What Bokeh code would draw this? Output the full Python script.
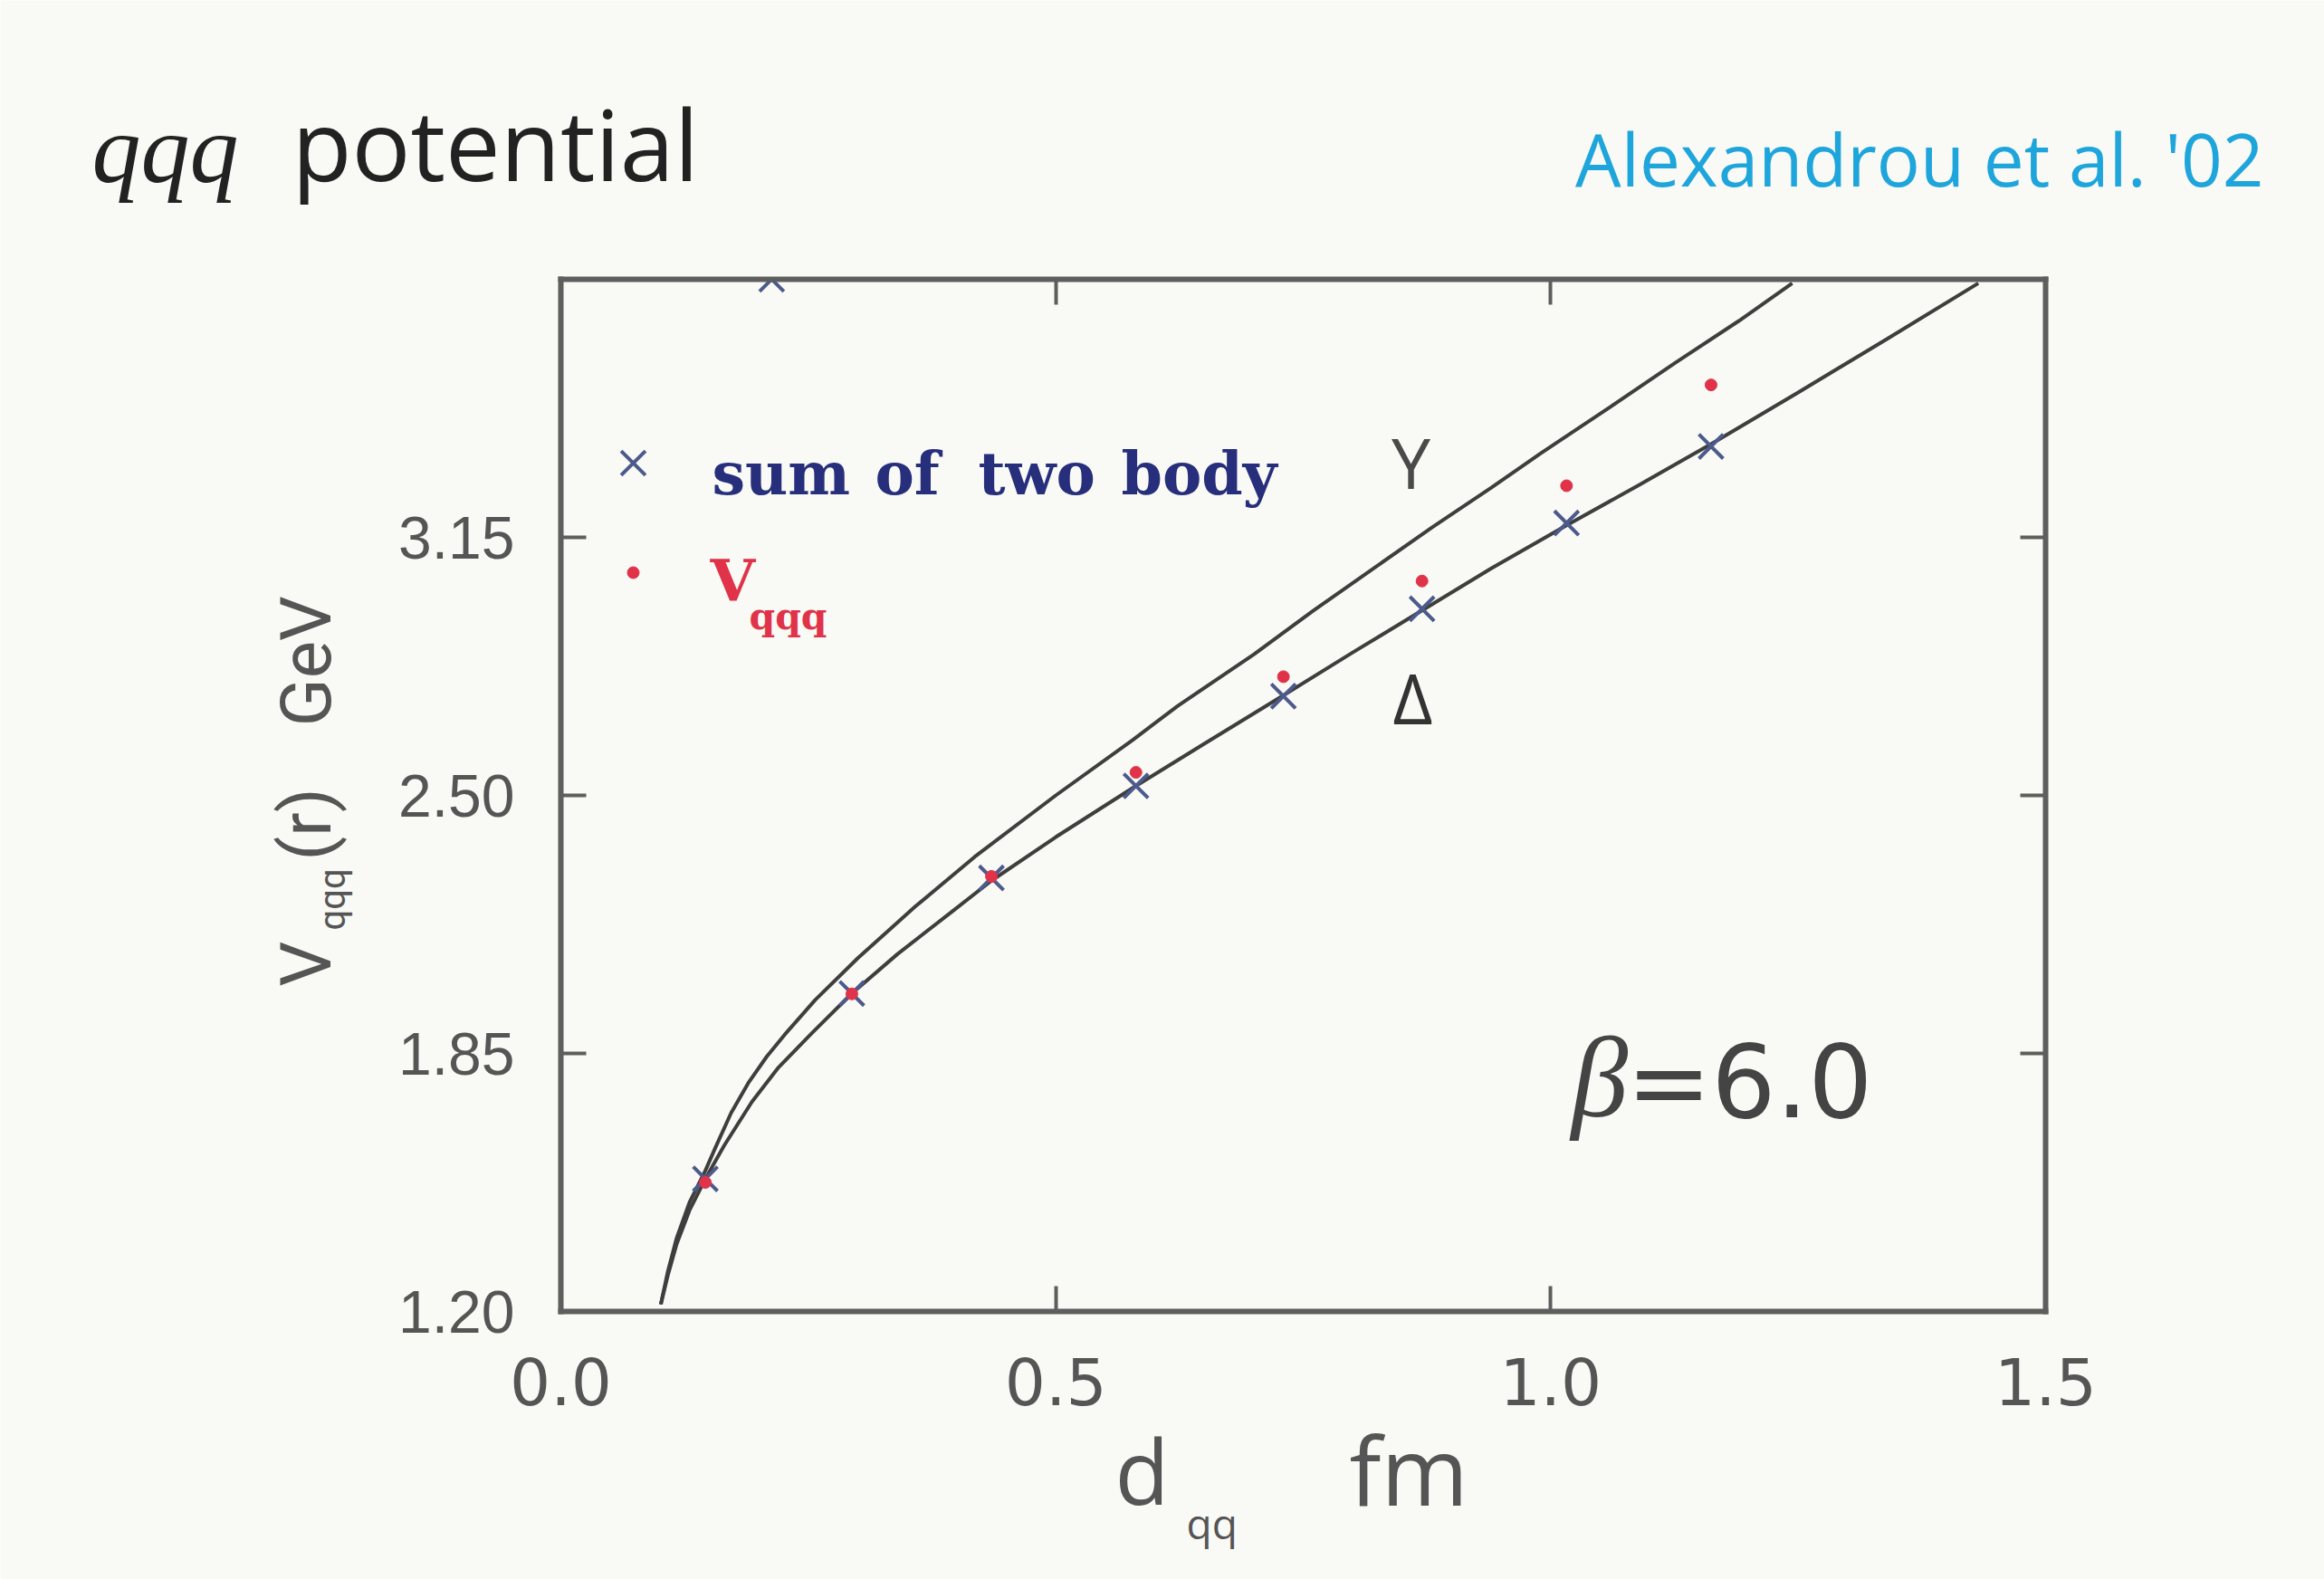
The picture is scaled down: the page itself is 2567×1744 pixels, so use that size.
from bokeh.plotting import figure
from bokeh.models import Range1d, FixedTicker, NumeralTickFormatter, LinearAxis, Label
from bokeh.embed import file_html
from bokeh.resources import INLINE

# --- data -------------------------------------------------------------
# quark separation d_qq (fm) for the lattice points
r_points = [0.146, 0.294, 0.435, 0.581, 0.730, 0.870, 1.016, 1.162]
# sum of two-body potentials (GeV)
v_two_body = [1.534, 2.001, 2.292, 2.524, 2.750, 2.970, 3.186, 3.379]
# three-quark potential V_qqq (GeV)
v_qqq = [1.525, 2.000, 2.296, 2.558, 2.799, 3.040, 3.280, 3.534]
# one more two-body point sitting on the upper edge
r_edge = [0.213]
v_edge = [3.800]

# Y-ansatz curve
r_y = [0.101, 0.108, 0.117, 0.130, 0.146, 0.156, 0.172, 0.190, 0.208, 0.226,
       0.257, 0.300, 0.358, 0.418, 0.500, 0.578, 0.623, 0.700, 0.760, 0.820,
       0.880, 0.940, 0.989, 1.060, 1.126, 1.190, 1.244]
v_y = [1.218, 1.300, 1.385, 1.475, 1.555, 1.612, 1.700, 1.778, 1.842, 1.897,
       1.985, 2.090, 2.220, 2.345, 2.500, 2.640, 2.725, 2.855, 2.965, 3.070,
       3.175, 3.275, 3.360, 3.478, 3.590, 3.695, 3.790]
# Delta-ansatz curve
r_delta = [0.101, 0.108, 0.117, 0.130, 0.146, 0.165, 0.193, 0.220, 0.254,
           0.294, 0.340, 0.394, 0.435, 0.500, 0.581, 0.650, 0.730, 0.800,
           0.870, 0.940, 1.016, 1.090, 1.162, 1.250, 1.340, 1.432]
v_delta = [1.218, 1.290, 1.370, 1.455, 1.534, 1.618, 1.728, 1.815, 1.902,
           2.001, 2.100, 2.205, 2.285, 2.395, 2.524, 2.630, 2.752, 2.860,
           2.966, 3.072, 3.180, 3.283, 3.385, 3.515, 3.650, 3.790]

x_ticks = [0.0, 0.5, 1.0, 1.5]
y_ticks = [1.20, 1.85, 2.50, 3.15]

# --- page geometry ----------------------------------------------------
W, H = 2567, 1744
F_LEFT, F_RIGHT, F_TOP, F_BOTTOM = 619, 2259, 308, 1448   # plot box in px
X0, X1 = 0.0, 1.5
Y0, Y1 = 1.20, 3.80
SX = (F_RIGHT - F_LEFT) / (X1 - X0)     # px per fm
SY = (F_BOTTOM - F_TOP) / (Y1 - Y0)     # px per GeV

BG = "#f9faf5"
FRAME = "#5e5e5e"
INK = "#555555"


def dx(px):
    """canvas pixel column -> data x"""
    return X0 + (px - F_LEFT) / SX


def dy(py):
    """canvas pixel row -> data y"""
    return Y0 + (F_BOTTOM - py) / SY


# the frame spans the whole canvas; the plot box is drawn by fixed axes
p = figure(width=W, height=H, output_backend="svg", toolbar_location=None,
           x_range=Range1d(dx(0), dx(W)), y_range=Range1d(dy(H), dy(0)),
           x_axis_location=None, y_axis_location=None,
           min_border=0, background_fill_color=BG, border_fill_color=BG)
p.grid.visible = False
p.outline_line_color = None


def make_axis(ticks, bounds, loc, fmt, font, size, standoff, show_labels):
    ax = LinearAxis(ticker=FixedTicker(ticks=ticks), bounds=bounds,
                    fixed_location=loc,
                    formatter=NumeralTickFormatter(format=fmt))
    ax.axis_line_color = FRAME
    ax.axis_line_width = 6
    ax.axis_line_cap = "square"
    ax.major_tick_in = 28
    ax.major_tick_out = 0
    ax.major_tick_line_width = 4
    ax.major_tick_line_color = FRAME
    ax.minor_tick_line_color = None
    ax.major_label_text_font = font
    ax.major_label_text_font_size = size
    ax.major_label_text_color = INK if show_labels else None
    ax.major_label_standoff = standoff
    return ax


# lattice points and curves
CROSS = "#4c5a8c"
RED = "#e0334a"
p.line(r_y, v_y, line_color="#3e3e3e", line_width=4)
p.line(r_delta, v_delta, line_color="#3e3e3e", line_width=4)
p.scatter(r_points, v_two_body, marker="x", size=38, line_width=4, line_color=CROSS)
p.scatter(r_edge, v_edge, marker="x", size=38, line_width=4, line_color=CROSS)
p.scatter(r_points, v_qqq, marker="circle", size=13, fill_color=RED, line_color=RED)

# keep marks inside the plot box: blank the band above it
p.quad(left=[dx(0)], right=[dx(W)], bottom=[Y1], top=[dy(0)],
       fill_color=BG, line_color=None)

p.add_layout(make_axis(x_ticks, (X0, X1), Y0, "0.0", "DejaVu Sans", "71px", 50, True), "below")
p.add_layout(make_axis(y_ticks, (Y0, Y1), X0, "0.00", "Liberation Sans", "66px", 51, True), "left")
p.add_layout(make_axis(x_ticks, (X0, X1), Y1, "0.0", "Liberation Sans", "10px", 0, False), "above")
p.add_layout(make_axis(y_ticks, (Y0, Y1), X1, "0.00", "Liberation Sans", "10px", 0, False), "right")

# legend keys
p.scatter([dx(699)], [dy(511)], marker="x", size=38, line_width=4, line_color=CROSS)
p.scatter([dx(699)], [dy(632)], marker="circle", size=13, fill_color=RED, line_color=RED)

# half of (ascent - descent) per font: shifts an alphabetic baseline to the middle
MID = {"Open Sans": 0.388, "DejaVu Serif": 0.346, "DejaVu Sans": 0.346,
       "Liberation Serif": 0.3375, "Liberation Sans": 0.3465, "Lato": 0.387,
       "Roboto": 0.3555}


def put(text, px, base, size, color=INK, font="Open Sans", style="normal",
        align="left", angle=0.0):
    shift = MID[font] * size
    if angle:
        x, y = dx(base - shift), dy(px)
    else:
        x, y = dx(px), dy(base - shift)
    p.add_layout(Label(x=x, y=y, text=text, text_font=font,
                       text_font_size=f"{size}px", text_font_style=style,
                       text_color=color, text_align=align,
                       text_baseline="middle", angle=angle))


NAVY = "#272f7c"
for word, left in [("sum", 786), ("of", 966), ("two", 1080), ("body", 1238)]:
    put(word, left, 545, 65, NAVY, font="DejaVu Serif", style="bold")
put("V", 784, 663, 64, RED, font="DejaVu Serif", style="bold")
put("qqq", 827, 695, 41, RED, font="DejaVu Serif", style="bold")

# ansatz tags
put("Y", 1558, 540, 77, "#4a4a4a", align="center")
put("\u0394", 1560, 799, 76, "#333333", align="center")

# coupling
put("\u03b2", 1735, 1233, 126, "#444444", font="Liberation Serif", style="italic")
put("=6.0", 1796, 1233, 112, "#444444", font="DejaVu Sans")

# heading
put("qqq", 101, 200, 108, "#222222", font="Liberation Serif", style="italic")
put("potential", 322, 200, 108, "#222222")
put("Alexandrou et al. '02", 2500, 205, 80, "#1ea5dc", align="right")

# axis titles
put("d", 1231, 1662, 98)
put("qq", 1310, 1699, 46)
put("fm", 1490, 1662, 104)

HALF_PI = 1.5707963267948966
put("V", 1089, 366, 78, font="Roboto", angle=HALF_PI)
put("qqq", 1027, 381, 40, font="Roboto", angle=HALF_PI)
put("(r)", 950, 366, 78, font="Roboto", angle=HALF_PI)
put("GeV", 802, 366, 78, font="Roboto", angle=HALF_PI)

open("out.html", "w").write(file_html(p, INLINE))
